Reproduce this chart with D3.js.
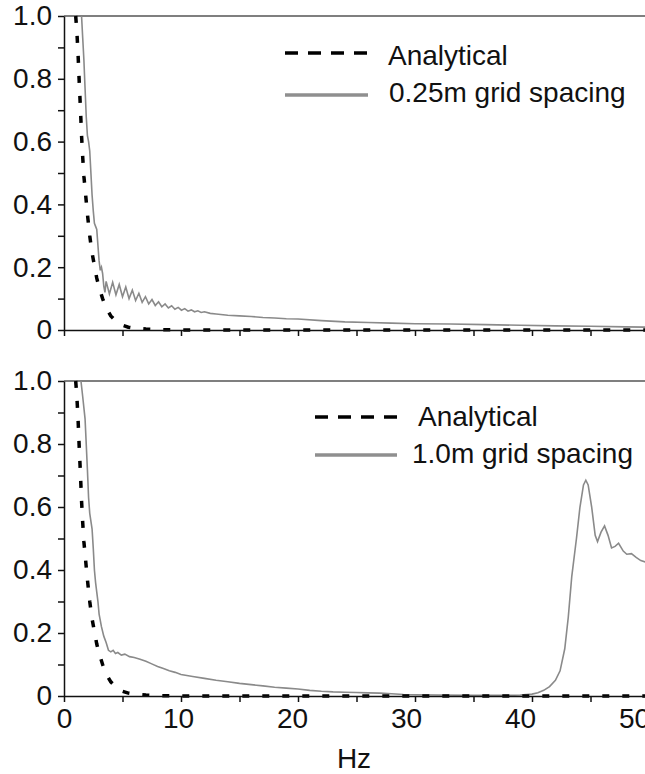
<!DOCTYPE html>
<html>
<head>
<meta charset="utf-8">
<script src="https://cdn.jsdelivr.net/npm/d3@7"></script>
<style>
  body { margin: 0; background: #fff; }
  svg text { font-family: "Liberation Sans", Arial, sans-serif; fill: #111; }
</style>
</head>
<body>
<svg id="svg1" width="645" height="774"></svg>
<script>
// analytical curve (same in both panels)
const analytical = [[1.0,1.0],[1.1,0.95],[1.2,0.88],[1.3,0.79],[1.4,0.71],[1.5,0.62],[1.6,0.55],[1.7,0.49],[1.8,0.45],[1.9,0.41],
  [2.0,0.37],[2.2,0.3],[2.4,0.245],[2.6,0.205],[2.8,0.165],[3.0,0.135],[3.3,0.1],[3.6,0.07],[4.0,0.045],[4.4,0.03],
  [5.0,0.015],[5.5,0.009],[6.0,0.006],[7,0.003],[8,0.001],[10,0],[50,0]];

// 0.25m grid spacing
const grid025 = [[1.5,1.0],[1.6,0.93],[1.7,0.86],[1.8,0.77],[1.9,0.68],[2.0,0.62],[2.1,0.6],[2.2,0.57],[2.3,0.5],[2.4,0.43],
  [2.5,0.38],[2.6,0.34],[2.7,0.33],[2.8,0.32],[2.9,0.27],[3.0,0.22],[3.1,0.19],[3.2,0.2],[3.3,0.18],[3.4,0.14],[3.5,0.12],
  [3.6,0.155],[3.88,0.115],[4.16,0.152],[4.44,0.112],[4.72,0.145],[5.0,0.106],[5.28,0.137],[5.56,0.1],[5.84,0.127],[6.12,0.094],
  [6.4,0.117],[6.68,0.088],[6.96,0.106],[7.24,0.083],[7.52,0.097],[7.8,0.078],[8.08,0.09],[8.36,0.074],[8.64,0.083],[8.92,0.07],
  [9.2,0.077],[9.48,0.066],[9.76,0.072],[10.04,0.063],[10.32,0.068],[10.6,0.06],[10.88,0.064],[11.16,0.058],[11.44,0.061],[11.72,0.056],
  [12.0,0.058],[12.5,0.053],[13,0.051],[14,0.047],[15,0.045],[16,0.043],[17,0.04],[18,0.038],[19,0.036],[20,0.035],
  [22,0.03],[24,0.026],[26,0.024],[28,0.022],[30,0.02],[33,0.019],[36,0.017],[39,0.015],[42,0.013],[45,0.012],[48,0.01],[50,0.009]];

// 1.0m grid spacing
const grid10 = [[1.45,1.0],[1.6,0.95],[1.8,0.88],[1.9,0.8],[2.0,0.72],[2.1,0.63],[2.2,0.58],[2.4,0.53],[2.5,0.47],[2.6,0.4],
  [2.7,0.36],[2.8,0.33],[2.9,0.3],[3.0,0.26],[3.2,0.22],[3.4,0.19],[3.6,0.17],[3.8,0.145],[4.0,0.14],[4.2,0.145],
  [4.4,0.135],[4.6,0.138],[4.9,0.13],[5.2,0.133],[5.6,0.125],[6,0.122],[6.5,0.117],[7,0.11],[7.5,0.102],[8,0.094],
  [8.5,0.087],[9,0.08],[9.5,0.075],[10,0.068],[11,0.062],[12,0.056],[13,0.05],[14,0.045],[15,0.04],[16,0.036],
  [17,0.032],[18,0.028],[19,0.025],[20,0.022],[21,0.018],[22,0.015],[23,0.013],[24,0.012],[25,0.011],[26,0.01],
  [27,0.009],[28,0.007],[29,0.005],[30,0.004],[32,0.003],[35,0.002],[38,0.002],[39,0.003],[40,0.006],[40.5,0.01],
  [41,0.018],[41.5,0.03],[42,0.05],[42.4,0.08],[42.8,0.15],[43.1,0.25],[43.4,0.38],[43.8,0.5],[44.1,0.6],[44.4,0.67],
  [44.6,0.685],[44.8,0.67],[45.1,0.6],[45.4,0.51],[45.6,0.49],[45.9,0.52],[46.2,0.54],[46.5,0.51],[46.8,0.47],[47.1,0.475],
  [47.4,0.485],[47.8,0.46],[48.1,0.45],[48.5,0.452],[48.9,0.44],[49.3,0.43],[49.7,0.425],[50,0.42]];

const xTicks = [0,5,10,15,20,25,30,35,40,45,50];
const xLabels = [0,10,20,30,40,50];
const yTicks = [0,0.1,0.2,0.3,0.4,0.5,0.6,0.7,0.8,0.9,1.0];
const yLabels = [0,0.2,0.4,0.6,0.8,1.0];

const panels = [
  {series: grid025, name: "0.25m grid spacing", top: 16, bottom: 330, showX: false,
   leg: {x1: 285, x2: 368, y1: 53, y2: 95, tx1: 388, tx2: 389, b1: 65, b2: 102}},
  {series: grid10, name: "1.0m grid spacing", top: 381, bottom: 696, showX: true,
   leg: {x1: 315, x2: 397, y1: 417, y2: 455, tx1: 418, tx2: 412, b1: 426, b2: 463}}
];

const svg = d3.select("#svg1"),
      x   = d3.scaleLinear().domain([0, 50]).range([64, 649]);

panels.forEach(p => {
  const y = d3.scaleLinear().domain([0, 1]).range([p.bottom, p.top]);
  const line = d3.line().x(d => x(d[0])).y(d => y(d[1]));

  // top border
  svg.append("line")
      .attr("x1", 64).attr("x2", 645)
      .attr("y1", p.top).attr("y2", p.top)
      .attr("stroke", "#555").attr("stroke-width", 1.5);

  svg.append("path")
      .datum(p.series)
      .attr("d", line)
      .attr("fill", "none")
      .attr("stroke", "#8a8a8a")
      .attr("stroke-width", 1.6);

  svg.append("path")
      .datum(analytical)
      .attr("d", line)
      .attr("fill", "none")
      .attr("stroke", "#000")
      .attr("stroke-width", 3.5)
      .attr("stroke-dasharray", "7,13");

  // x axis
  const xa = svg.append("g")
      .attr("transform", `translate(0,${p.bottom})`)
      .call(d3.axisBottom(x).tickValues(xTicks).tickSize(6).tickSizeOuter(0)
        .tickFormat(d => p.showX && xLabels.includes(d) ? d : ""));
  xa.select(".domain").attr("stroke", "#111").attr("stroke-width", 1.5);
  xa.selectAll(".tick line").attr("stroke", "#111").attr("stroke-width", 1.5);
  // labels in the original drift a little left of their ticks
  xa.selectAll(".tick text").style("font-size", "28px").attr("dy", "0.95em").attr("y", 5)
      .attr("x", d => -d * 0.3);

  // y axis
  const ya = svg.append("g")
      .attr("transform", "translate(64,0)")
      .call(d3.axisLeft(y).tickValues(yTicks).tickSize(6).tickSizeOuter(0)
        .tickFormat(d => {
          const r = Math.round(d * 10) / 10;
          if (!yLabels.some(v => Math.abs(v - r) < 1e-9)) return "";
          return r === 0 ? "0" : d3.format(".1f")(r);
        }));
  ya.select(".domain").attr("stroke", "#111").attr("stroke-width", 1.5);
  ya.selectAll(".tick line").attr("stroke", "#111").attr("stroke-width", 1.5);
  ya.selectAll(".tick text").style("font-size", "28px").attr("x", -12);

  // legend
  const L = p.leg;
  svg.append("line")
      .attr("x1", L.x1).attr("x2", L.x2).attr("y1", L.y1).attr("y2", L.y1)
      .attr("stroke", "#000").attr("stroke-width", 3.5)
      .attr("stroke-dasharray", "13,10");
  svg.append("line")
      .attr("x1", L.x1).attr("x2", L.x2).attr("y1", L.y2).attr("y2", L.y2)
      .attr("stroke", "#8f8f8f").attr("stroke-width", 3.5);
  svg.append("text")
      .attr("x", L.tx1).attr("y", L.b1)
      .style("font-size", "28px")
      .text("Analytical");
  svg.append("text")
      .attr("x", L.tx2).attr("y", L.b2)
      .style("font-size", "28px")
      .text(p.name);
});

svg.append("text")
    .attr("x", 354).attr("y", 768)
    .attr("text-anchor", "middle")
    .style("font-size", "28px")
    .text("Hz");
</script>
</body>
</html>
